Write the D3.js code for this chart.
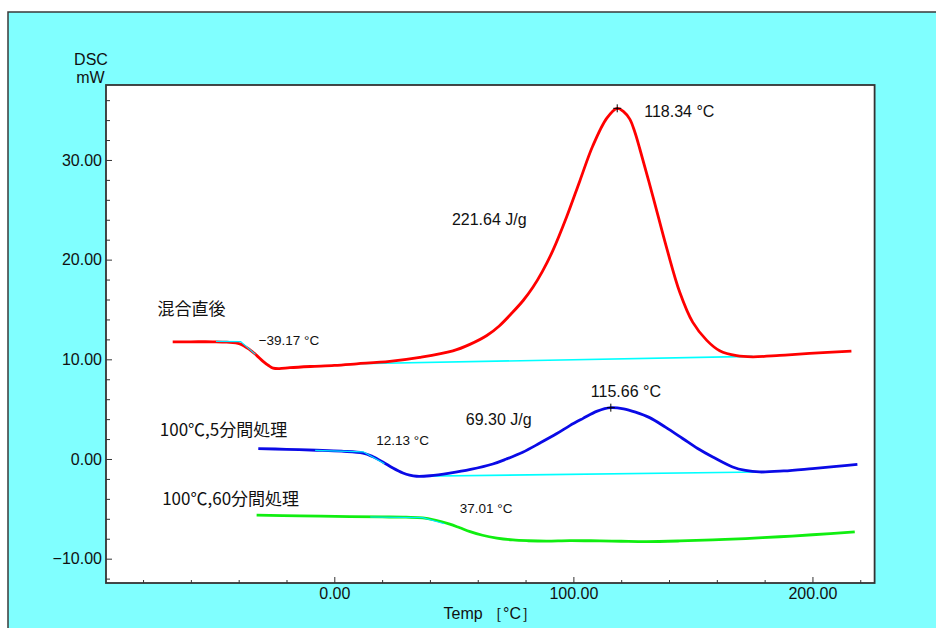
<!DOCTYPE html>
<html><head><meta charset="utf-8">
<script src="https://cdn.jsdelivr.net/npm/d3@7"></script>
<style>
html,body{margin:0;padding:0;background:#fff;}
svg{display:block;}
text{font-family:"Liberation Sans",Arial,sans-serif;fill:#111;}
.jp{font-family:"Noto Sans CJK JP","Liberation Sans",sans-serif;}
</style></head>
<body>
<svg id="chart" width="936" height="628"></svg>
<script>
// ---- data (temperature °C, heat flow mW) ----
const redTemp = [-67.6,-60,-50.8,-45,-39.5,-35.3,-32.5,-29.8,-27.5,-25.6,-23,-18.6,-10,0,9.4,23.2,35.8,49.6,56.7,63.8,69,74.6,79,83.0,87,91.4,97.2,102.7,108.1,114.0,118.34,121,123.6,125.7,127.8,133.2,139.1,144.5,149.9,155.8,161.2,168.3,175.0,186.3,198.8,216.3];
const redVal  = [11.76,11.76,11.76,11.72,11.55,10.95,10.4,9.8,9.38,9.12,9.07,9.16,9.28,9.39,9.55,9.8,10.2,10.85,11.5,12.39,13.35,14.72,15.9,17.2,18.8,20.9,24.3,27.9,31.4,34.2,35.18,34.85,34.1,32.8,31.1,26.4,21.1,16.73,13.73,11.9,10.86,10.36,10.25,10.39,10.59,10.82];

const blueTemp = [-31.8,-20,-7.4,3,12.0,16,20.3,24.5,28.7,31.5,34.4,40,48.3,57,66.3,72,78.8,86,93.1,98.5,103.9,110,115.66,121,126,131.9,138.5,145.7,152,158.3,166.6,172,177.9,188,200.0,210,218.8];
const blueVal  = [1.05,0.97,0.88,0.78,0.6,0.25,-0.3,-0.9,-1.4,-1.62,-1.73,-1.68,-1.42,-1.05,-0.5,0.0,0.68,1.6,2.55,3.35,4.05,4.8,5.15,5.03,4.7,4.15,3.2,2.06,1.05,0.2,-0.8,-1.15,-1.3,-1.2,-0.96,-0.75,-0.53];

const greenTemp = [-32.5,-14.4,6.5,20,30,37.0,42,48.3,52.5,56.8,62,68.0,74.7,81,88.9,98.5,111.1,120,130.6,144.5,158.3,172,186.3,200,217.7];
const greenVal  = [-5.64,-5.7,-5.78,-5.81,-5.84,-5.9,-6.12,-6.54,-6.9,-7.28,-7.65,-7.93,-8.12,-8.2,-8.24,-8.18,-8.22,-8.25,-8.28,-8.22,-8.12,-7.98,-7.8,-7.6,-7.32];

// baselines (integration) [temp, value]
const redBaseline  = [[9.4,9.55],[175.0,10.3]];
const blueBaseline = [[34.4,-1.73],[177.9,-1.3]];
// onset tangent constructions: [start of extrapolated baseline, onset, tangent end]
const redOnset   = [[-49.5,11.8],[-39.17,11.78],[-33.0,10.5]];
const blueOnset  = [[-8,0.86],[12.13,0.72],[21,-0.48]];
const greenOnset = [[15,-5.82],[37.01,-5.88],[46,-6.5]];
// peaks
const peaks = [[118.34,35.18],[115.66,5.15]];

const seriesNames = ["混合直後","100℃,5分間処理","100℃,60分間処理"];
const xMajorTicks = [0,100,200];
const xMinorTicks = [-80,-60,-40,-20,20,40,60,80,120,140,160,180,220];
const yMajorTicks = [-10,0,10,20,30];
const yMinorTicks = [-12,-8,-6,-4,-2,2,4,6,8,12,14,16,18,22,24,26,28,32,34,36];

// annotation texts anchored at data coords
const annotations = [
  {t:"118.34 °C", at:[118.34,35.18], dx:27, dy:3, size:16},
  {t:"221.64 J/g", at:[49.2,24.08], dx:0, dy:0, size:16},
  {t:"−39.17 °C", at:[-39.17,11.78], dx:18, dy:-1, size:13.5},
  {t:"115.66 °C", at:[115.66,5.15], dx:-20, dy:-16, size:16},
  {t:"69.30 J/g", at:[55,3.96], dx:0, dy:0, size:16},
  {t:"12.13 °C", at:[12.13,0.72], dx:13, dy:-12, size:13.5},
  {t:"37.01 °C", at:[37.01,-5.86], dx:37, dy:-9, size:13.5}
];
const seriesLabelPos = [[-74,15.0],[-73,2.95],[-72,-4.05]];

// ---- layout ----
const svg = d3.select("#chart");
const L = 106, R = 874.6, T = 85, B = 583;
const x = d3.scaleLinear().domain([-95.5, 226]).range([L, R]);
const y = d3.scaleLinear().domain([-12.44, 37.52]).range([B, T]);

// backgrounds
svg.append("rect").attr("x",8).attr("y",12).attr("width",960).attr("height",640)
  .attr("fill","#80ffff").attr("stroke","#3a3a3a").attr("stroke-width",1.5);
svg.append("rect").attr("x",L).attr("y",T).attr("width",R-L).attr("height",B-T).attr("fill","#fff");

// axes
const fmt = d3.format(".2f");
const gy = svg.append("g").attr("transform",`translate(${L},0)`)
  .call(d3.axisLeft(y).tickValues(yMajorTicks).tickFormat(fmt).tickSize(-6).tickPadding(4));
const gym = svg.append("g").attr("transform",`translate(${L},0)`)
  .call(d3.axisLeft(y).tickValues(yMinorTicks).tickFormat("").tickSize(-4));
const gx = svg.append("g").attr("transform",`translate(0,${B})`)
  .call(d3.axisBottom(x).tickValues(xMajorTicks).tickFormat(fmt).tickSize(-6).tickPadding(5));
const gxm = svg.append("g").attr("transform",`translate(0,${B})`)
  .call(d3.axisBottom(x).tickValues(xMinorTicks).tickFormat("").tickSize(-3));
[gy,gym,gx,gxm].forEach(g=>{
  g.select(".domain").remove();
  g.selectAll("line").attr("stroke","#333").attr("stroke-width",1);
  g.selectAll("text").attr("font-size",16).attr("fill","#111")
    .attr("font-family","'Liberation Sans',Arial,sans-serif");
});

// curves
const line = d3.line().x(d=>x(d[0])).y(d=>y(d[1])).curve(d3.curveCatmullRom.alpha(0.5));
const zip = (a,b)=>a.map((t,i)=>[t,b[i]]);
const straight = d3.line().x(d=>x(d[0])).y(d=>y(d[1]));

// baselines first (under curves)
[redBaseline, blueBaseline].forEach(b=>{
  svg.append("path").attr("d",straight(b)).attr("fill","none")
    .attr("stroke","#00ffff").attr("stroke-width",1.6);
});

const series = [
  {d:zip(redTemp,redVal), c:"#ff0000"},
  {d:zip(blueTemp,blueVal), c:"#0a0ae6"},
  {d:zip(greenTemp,greenVal), c:"#10ee10"}
];
series.forEach(s=>{
  svg.append("path").attr("d",line(s.d)).attr("fill","none")
    .attr("stroke",s.c).attr("stroke-width",2.8).attr("stroke-linejoin","round");
});

// onset tangents
[redOnset, blueOnset, greenOnset].forEach(o=>{
  svg.append("path").attr("d",straight(o)).attr("fill","none")
    .attr("stroke","#00e8ff").attr("stroke-width",1.2);
});

// peak markers
peaks.forEach(p=>{
  const px = x(p[0]), py = y(p[1]);
  svg.append("line").attr("x1",px-4).attr("x2",px+4).attr("y1",py).attr("y2",py).attr("stroke","#000").attr("stroke-width",1);
  svg.append("line").attr("x1",px).attr("x2",px).attr("y1",py-4).attr("y2",py+4).attr("stroke","#000").attr("stroke-width",1);
});

// annotations
annotations.forEach(a=>{
  svg.append("text").attr("x",x(a.at[0])+a.dx).attr("y",y(a.at[1])+a.dy)
    .attr("dy","0.35em").attr("font-size",a.size).text(a.t);
});
seriesNames.forEach((n,i)=>{
  svg.append("text").attr("class","jp").attr("x",x(seriesLabelPos[i][0])).attr("y",y(seriesLabelPos[i][1]))
    .attr("dy","0.35em").attr("font-size",17).text(n);
});

// plot frame
svg.append("rect").attr("x",L).attr("y",T).attr("width",R-L).attr("height",B-T)
  .attr("fill","none").attr("stroke","#333").attr("stroke-width",1.8);

// axis titles
svg.append("text").attr("x",91).attr("y",59).attr("dy","0.35em").attr("text-anchor","middle").attr("font-size",16).text("DSC");
svg.append("text").attr("x",90.5).attr("y",77).attr("dy","0.35em").attr("text-anchor","middle").attr("font-size",16).text("mW");
svg.append("text").attr("x",(L+R)/2).attr("y",613).attr("dy","0.35em").attr("text-anchor","middle")
  .attr("font-size",16).attr("font-family","'Liberation Sans','Noto Sans CJK JP',sans-serif").text("Temp ［°C］");
</script>
</body></html>
